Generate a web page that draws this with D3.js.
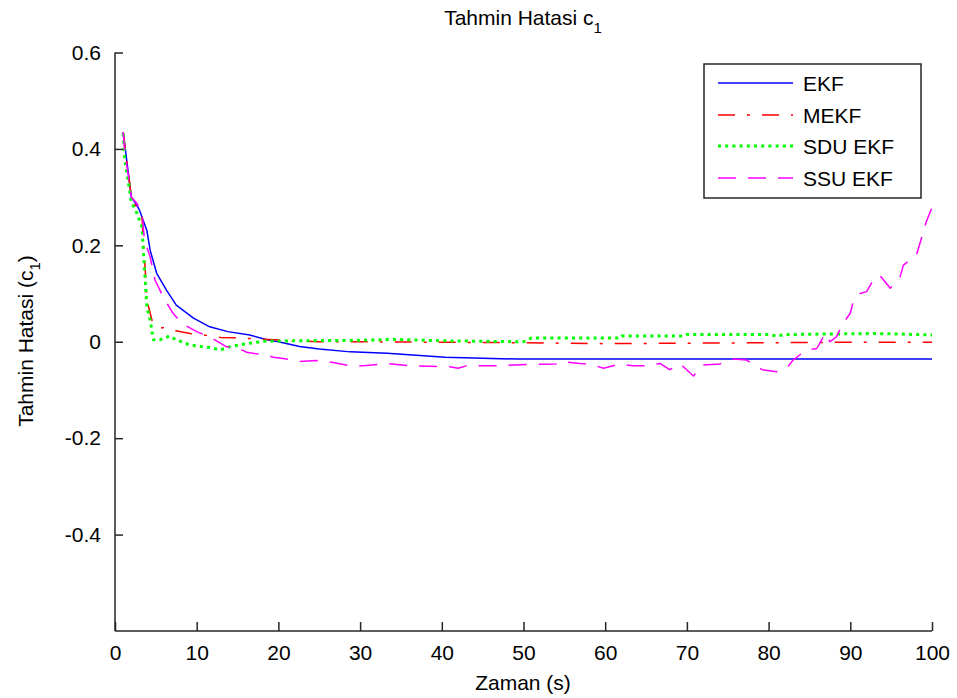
<!DOCTYPE html>
<html><head><meta charset="utf-8">
<script src="https://cdn.jsdelivr.net/npm/d3@7"></script>
<style>body{margin:0;background:#fff}svg{display:block}text{font-family:"Liberation Sans",Arial,sans-serif;fill:#000}</style>
</head><body><svg id="c" width="957" height="698"></svg>
<script>
const xTicks=[0,10,20,30,40,50,60,70,80,90,100];
const yTicks=[-0.4,-0.2,0,0.2,0.4,0.6];
const yTickLabels=["-0.4","-0.2","0","0.2","0.4","0.6"];
const seriesNames=["EKF","MEKF","SDU EKF","SSU EKF"];

const ekfT=[1,2,2.6,3,3.9,4.3,5.1,6.3,7.5,9.6,11.6,13.8,16.5,18.6,20,22.6,25,28.8,33.3,36,40.4,45,49.3,55,100];
const ekfV=[0.435,0.30,0.285,0.273,0.231,0.19,0.142,0.107,0.076,0.049,0.031,0.021,0.014,0.004,0.0,-0.010,-0.015,-0.021,-0.024,-0.027,-0.032,-0.034,-0.036,-0.036,-0.036];

const mekfT=[1,2,2.6,3.3,3.5,3.7,3.9,4.6,5.5,6.2,7.3,9.2,10.8,12.9,15,17.3,19.5,21.8,25,30,40,50,60,70,80,90,100];
const mekfV=[0.435,0.30,0.28,0.26,0.20,0.149,0.086,0.04,0.028,0.030,0.023,0.017,0.014,0.009,0.008,0.006,0.004,0.002,0.0,0.0,-0.001,-0.002,-0.004,-0.003,-0.002,-0.001,-0.001];

const sduT=[1,1.2,1.6,2.0,2.7,3.3,3.5,3.7,3.9,4.3,4.7,5.5,6.7,7.5,9.2,11.6,12.9,14.1,15.7,18.2,22,30,34,40,50,51,61.8,62,69.5,70,80,81,82,87,93,96,100];
const sduV=[0.432,0.377,0.335,0.29,0.266,0.238,0.183,0.128,0.072,0.045,0.004,0.004,0.012,0.004,-0.007,-0.012,-0.017,-0.010,-0.005,0.001,0.002,0.003,0.005,0.002,0.0,0.008,0.008,0.012,0.012,0.015,0.015,0.012,0.015,0.016,0.017,0.016,0.014];

const ssuT=[1,1.2,1.6,2.0,2.7,3.4,3.6,4.3,4.9,5.9,7.1,8.2,10,11.6,13.6,15.7,16.1,18.6,19.4,21,22.6,24.6,26.7,28.8,30.4,33.3,36.1,41,42,43,47,50.4,54,54.7,56.9,58.1,59.8,61.8,63.4,65.1,66.7,67.9,69.2,70.8,72,74,75.7,77.3,79.2,81,82.2,83,84.6,85.9,86.7,87.1,87.5,88.3,89.1,90,90.4,91.2,92,92.8,93.6,94.9,96.1,96.5,98.1,98.7,99.3,100];
const ssuV=[0.435,0.391,0.349,0.30,0.287,0.252,0.211,0.176,0.128,0.093,0.059,0.038,0.021,0.010,-0.010,-0.018,-0.022,-0.028,-0.032,-0.036,-0.041,-0.039,-0.043,-0.050,-0.050,-0.045,-0.050,-0.052,-0.055,-0.050,-0.050,-0.047,-0.046,-0.041,-0.045,-0.046,-0.055,-0.046,-0.050,-0.050,-0.045,-0.058,-0.046,-0.071,-0.048,-0.046,-0.036,-0.038,-0.058,-0.062,-0.055,-0.038,-0.017,-0.014,0.010,0.017,0.0,0.010,0.038,0.059,0.086,0.100,0.104,0.128,0.138,0.111,0.135,0.159,0.18,0.214,0.249,0.279];

const styles=[
 {color:"#0000ff",width:1.5,dash:null},
 {color:"#ff0000",width:1.5,dash:"17,12,3,12"},
 {color:"#00ff00",width:3,dash:"3,4.2"},
 {color:"#ff00ff",width:1.5,dash:"18,12"}
];
const series=[[ekfT,ekfV],[mekfT,mekfV],[sduT,sduV],[ssuT,ssuV]].map(([t,v])=>d3.zip(t,v));

const svg=d3.select("#c");
const L=115,R=932,T=52.5,B=631;
const x=d3.scaleLinear().domain([0,100]).range([L,R]);
const y=d3.scaleLinear().domain([-0.6,0.6]).range([B,T]);
const FS=21;

// lines
const line=d3.line().x(d=>x(d[0])).y(d=>y(d[1]));
series.forEach((s,i)=>{
  svg.append("path").datum(s).attr("d",line).attr("fill","none")
    .attr("stroke",styles[i].color).attr("stroke-width",styles[i].width)
    .attr("stroke-dasharray",styles[i].dash).attr("stroke-linejoin","round");
});

// axes
const xa=svg.append("g").attr("transform",`translate(0,${B})`)
  .call(d3.axisBottom(x).tickValues(xTicks).tickSizeInner(-9).tickSizeOuter(0).tickPadding(14));
const ya=svg.append("g").attr("transform",`translate(${L},0)`)
  .call(d3.axisLeft(y).tickValues(yTicks).tickFormat((d,i)=>yTickLabels[i]).tickSizeInner(-8).tickSizeOuter(0).tickPadding(14));
[xa,ya].forEach(g=>{
  g.selectAll("path,line").attr("stroke","#262626").attr("stroke-width",1.5);
  g.selectAll("text").attr("font-size",FS).attr("font-family","Liberation Sans, Arial, sans-serif").attr("fill","#000");
});
xa.selectAll("text").attr("dy","0.71em");
ya.select(".domain").attr("d",`M0,${B}V${T}`);
xa.select(".domain").attr("d",`M${L},0H${R}`);

// title
const tt=svg.append("text").attr("x",523).attr("y",25).attr("text-anchor","middle").attr("font-size",FS);
tt.append("tspan").text("Tahmin Hatasi c");
tt.append("tspan").attr("font-size",15).attr("dy",8).text("1");

// x label
svg.append("text").attr("x",523).attr("y",690).attr("text-anchor","middle").attr("font-size",FS).text("Zaman (s)");

// y label
const yl=svg.append("text").attr("transform","translate(33,341) rotate(-90)").attr("text-anchor","middle").attr("font-size",FS);
yl.append("tspan").text("Tahmin Hatasi (c");
yl.append("tspan").attr("font-size",15).attr("dy",7).text("1");
yl.append("tspan").attr("dy",-7).text(")");

// legend
const lg=svg.append("g");
lg.append("rect").attr("x",704).attr("y",64).attr("width",217).attr("height",134)
  .attr("fill","#fff").attr("stroke","#262626").attr("stroke-width",1.5);
const ly=[83,115,146,178];
seriesNames.forEach((n,i)=>{
  lg.append("line").attr("x1",718).attr("x2",793).attr("y1",ly[i]).attr("y2",ly[i])
    .attr("stroke",styles[i].color).attr("stroke-width",styles[i].width).attr("stroke-dasharray",styles[i].dash);
  lg.append("text").attr("x",803).attr("y",ly[i]+8).attr("font-size",FS).text(n);
});
</script></body></html>
